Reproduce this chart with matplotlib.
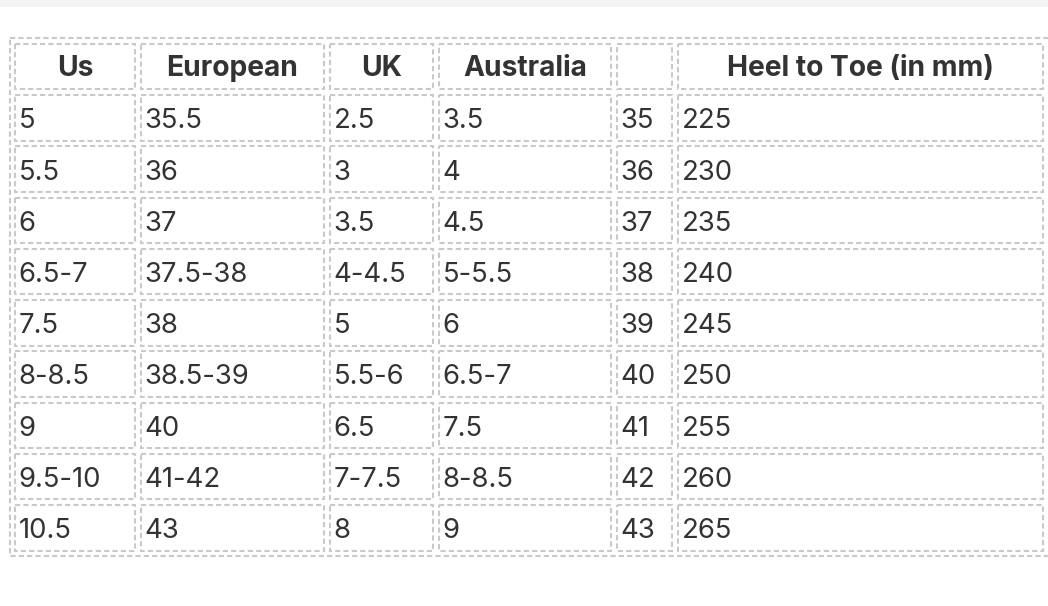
import matplotlib
matplotlib.use("Agg")
from matplotlib import pyplot as plt
from matplotlib.patches import Rectangle

headers = ["Us", "European", "UK", "Australia", "", "Heel to Toe (in mm)"]
us = ["5", "5.5", "6", "6.5-7", "7.5", "8-8.5", "9", "9.5-10", "10.5"]
european = ["35.5", "36", "37", "37.5-38", "38", "38.5-39", "40", "41-42", "43"]
uk = ["2.5", "3", "3.5", "4-4.5", "5", "5.5-6", "6.5", "7-7.5", "8"]
australia = ["3.5", "4", "4.5", "5-5.5", "6", "6.5-7", "7.5", "8-8.5", "9"]
eu_short = ["35", "36", "37", "38", "39", "40", "41", "42", "43"]
heel_to_toe = ["225", "230", "235", "240", "245", "250", "255", "260", "265"]

columns = [us, european, uk, australia, eu_short, heel_to_toe]

# layout in pixels (figure is 1048x606 at dpi 100)
W, H = 1048, 606
col_edges = [(15, 135), (141, 324), (330, 433), (439, 611), (617, 672), (678, 1043)]
header_top, header_h = 43.5, 45.5
row_top0, row_pitch, row_h = 95, 51.25, 45.5

border_color = "#c9c9c9"
text_color = "#333333"
dash = (0, (2.5, 1.5))
lw = 1.5

fig = plt.figure(figsize=(W / 100, H / 100), dpi=100)
ax = fig.add_axes([0, 0, 1, 1])
ax.set_xlim(0, W)
ax.set_ylim(H, 0)
ax.axis("off")
fig.patch.set_facecolor("#ffffff")

# top grey strip
ax.add_patch(Rectangle((0, 0), W, 7, facecolor="#f4f4f4", edgecolor="none"))

# outer table border
ax.add_patch(Rectangle((9.5, 38), 1045, 518, fill=False, edgecolor=border_color,
                       linestyle=dash, linewidth=lw))


def cell(x0, x1, y0, h):
    ax.add_patch(Rectangle((x0, y0), x1 - x0, h, fill=False, edgecolor=border_color,
                           linestyle=dash, linewidth=lw))


for (x0, x1), name in zip(col_edges, headers):
    cell(x0, x1, header_top, header_h)
    ax.text((x0 + x1) / 2, header_top + header_h / 2 + 2.5, name, ha="center", va="center",
            fontsize=20.3, fontweight="bold", color=text_color, family="Inter")

for (x0, x1), values in zip(col_edges, columns):
    for i, v in enumerate(values):
        y0 = row_top0 + i * row_pitch
        cell(x0, x1, y0, row_h)
        ax.text(x0 + 3.5, y0 + row_h / 2 + 3.5, v, ha="left", va="center",
                fontsize=19.8, color=text_color, family="Inter")

fig.savefig("out.png", dpi=100, facecolor=fig.get_facecolor())
